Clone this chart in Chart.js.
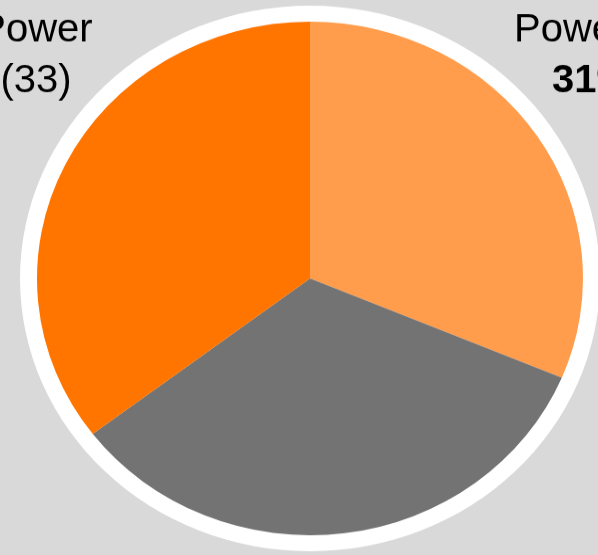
<!DOCTYPE html>
<html>
<head>
<meta charset="utf-8">
<script src="https://cdn.jsdelivr.net/npm/chart.js@4"></script>
<style>
  html, body { margin: 0; padding: 0; background: #d9d9d9; overflow: hidden; }
  #pie { display: block; width: 598px; height: 555px; }
</style>
</head>
<body>
<!-- canvas is drawn taller than shown, so the pie comes out slightly flattened -->
<canvas id="pie" width="598" height="590" style="width:598px;height:555px"></canvas>
<script>
const categories = ['Power', 'Other', 'Rest'];
const values = [31, 33, 35];
const sliceColors = ['#ff9d4c', '#737373', '#ff7500'];

// side labels
const leftLabel = ['Power', '(33)'];
const rightLabel = ['Power', values[0] + '%'];

const canvas = document.getElementById('pie');
const squash = 555 / 590;

// white rim behind the slices
const rimPlugin = {
  id: 'rim',
  beforeDatasetsDraw(chart) {
    const arc = chart.getDatasetMeta(0).data[0];
    if (!arc) return;
    const ctx = chart.ctx;
    ctx.save();
    ctx.beginPath();
    ctx.arc(arc.x, arc.y, arc.outerRadius + 17, 0, Math.PI * 2);
    ctx.fillStyle = '#ffffff';
    ctx.fill();
    ctx.restore();
  }
};

// labels drawn in screen space (undo the vertical squash)
const labelPlugin = {
  id: 'sideLabels',
  afterDraw(chart) {
    const ctx = chart.ctx;
    ctx.save();
    ctx.scale(1, 1 / squash);
    ctx.fillStyle = '#000000';
    ctx.textBaseline = 'alphabetic';

    ctx.font = '40px "Liberation Sans", Arial, sans-serif';
    ctx.textAlign = 'center';
    ctx.fillText(leftLabel[0], 36, 41);
    ctx.fillText(leftLabel[1], 36, 92);

    ctx.textAlign = 'left';
    ctx.fillText(rightLabel[0], 514, 41);
    ctx.font = 'bold 40px "Liberation Sans", Arial, sans-serif';
    ctx.fillText(rightLabel[1], 552, 92);
    ctx.restore();
  }
};

new Chart(canvas, {
  type: 'pie',
  data: {
    labels: categories,
    datasets: [{
      data: values,
      backgroundColor: sliceColors,
      borderWidth: 0,
      hoverOffset: 0
    }]
  },
  options: {
    responsive: false,
    animation: false,
    devicePixelRatio: 1,
    layout: {
      padding: { left: 37, right: 15, top: 23, bottom: 21 }
    },
    plugins: {
      legend: { display: false },
      tooltip: { enabled: false }
    }
  },
  plugins: [rimPlugin, labelPlugin]
});
</script>
</body>
</html>
